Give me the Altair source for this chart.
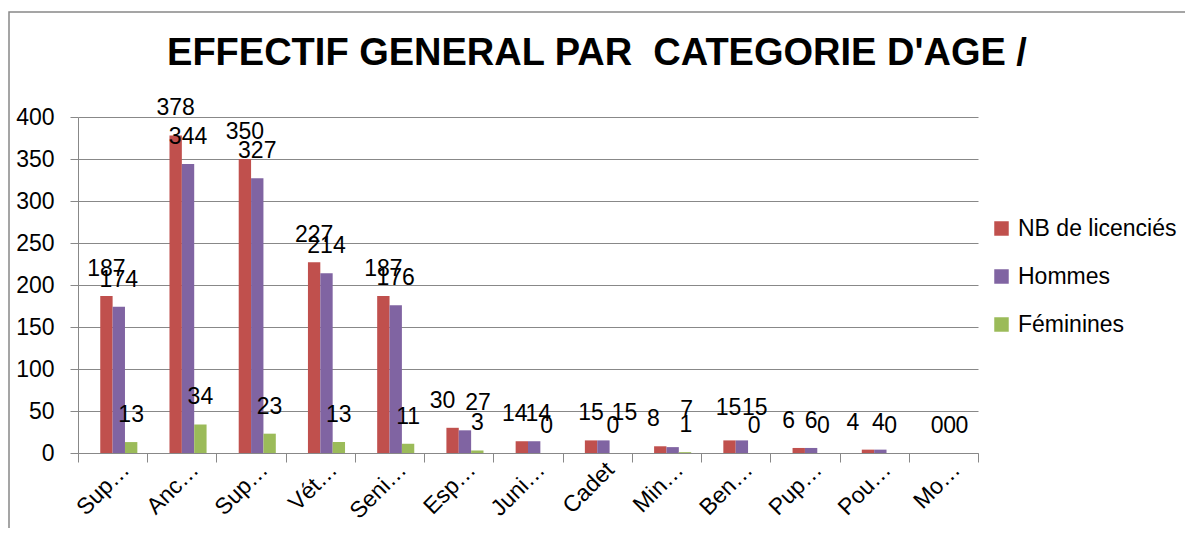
import altair as alt
import pandas as pd

categories = ["Sup…", "Anc…", "Sup…", "Vét…", "Seni…", "Esp…", "Juni…",
              "Cadet", "Min…", "Ben…", "Pup…", "Pou…", "Mo…"]
nb_licencies = [187, 378, 350, 227, 187, 30, 14, 15, 8, 15, 6, 4, 0]
hommes = [174, 344, 327, 214, 176, 27, 14, 15, 7, 15, 6, 4, 0]
feminines = [13, 34, 23, 13, 11, 3, 0, 0, 1, 0, 0, 0, 0]
series_names = ["NB de licenciés", "Hommes", "Féminines"]
series_colors = ["#C0504D", "#8064A2", "#9BBB59"]
y_ticks = [0, 50, 100, 150, 200, 250, 300, 350, 400]
title_text = "EFFECTIF GENERAL PAR  CATEGORIE D'AGE /"

# nudges of the value labels (as placed in the original chart), in pixels
nudge_x_nb = [0, 0, 0, 0, 0, -10, -7, 0, -7, -1, -10, -15, 0]
nudge_x_hommes = [0, 0, 0, 0, 0, 13, 4, 21, 14, 13, 0, -2, 0]
nudge_x_feminines = [0, 0, 0, 0, 0, 0, 0, -3, 1, 0, 0, -2, 0]
nudge_y_nb = [0, 0, 0, 0, 0, 0, 0, 0, 0, -5, 0, 0, 0]
nudge_y_hommes = [0, 0, 0, 0, 0, 0, 0, 0, -10, -5, 0, 0, 0]
nudge_y_feminines = [0] * 13

rows = []
for i, cat in enumerate(categories):
    for name, vals, nx, ny in zip(series_names, [nb_licencies, hommes, feminines],
                                  [nudge_x_nb, nudge_x_hommes, nudge_x_feminines],
                                  [nudge_y_nb, nudge_y_hommes, nudge_y_feminines]):
        rows.append({"idx": i, "cat": cat, "series": name, "value": vals[i],
                     "nx": nx[i], "ny": ny[i]})
df = pd.DataFrame(rows)

FONT = "Liberation Sans"
label_expr = "[" + ",".join("'" + c + "'" for c in categories) + "][datum.value]"

x_enc = alt.X("idx:O", scale=alt.Scale(paddingInner=0, paddingOuter=0),
              axis=alt.Axis(labelExpr=label_expr, labelAngle=-45, tickBand="extent",
                            tickSize=9, domainColor="#888888", tickColor="#888888",
                            labelFontSize=23, labelColor="black", labelFont=FONT,
                            title=None, grid=False, labelPadding=-4, labelOffset=5))
xoff = alt.XOffset("series:N",
                   scale=alt.Scale(domain=["_"] + series_names, paddingInner=0, paddingOuter=0.8))
y_enc = alt.Y("value:Q", scale=alt.Scale(domain=[0, 400]),
              axis=alt.Axis(values=y_ticks, tickSize=8, labelPadding=16,
                            gridColor="#888888", domainColor="#888888", tickColor="#888888",
                            labelFontSize=23, labelColor="black", labelFont=FONT,
                            title=None))

bars = alt.Chart(df).mark_bar().encode(
    x=x_enc, xOffset=xoff, y=y_enc,
    color=alt.Color("series:N",
                    scale=alt.Scale(domain=series_names, range=series_colors),
                    legend=alt.Legend(orient="none", legendX=912, legendY=100, title=None,
                                      symbolType="square", symbolSize=210,
                                      symbolStrokeWidth=0, labelFontSize=23,
                                      labelFont=FONT, labelColor="black",
                                      labelOffset=5, rowPadding=24)),
)

labels = alt.Chart(df).mark_text(dy=alt.expr("-27 + datum.ny"), dx=alt.expr("datum.nx"),
                                 baseline="middle", fontSize=23, font=FONT,
                                 color="black").encode(
    x=alt.X("idx:O"), xOffset=alt.XOffset("series:N"), y=alt.Y("value:Q"),
    text=alt.Text("value:Q"),
)

border = alt.Chart(pd.DataFrame({"a": [0]})).mark_rect(
    fill=None, stroke="#888888", strokeWidth=1.5).encode(
    x=alt.value(-69), x2=alt.value(1120), y=alt.value(-105), y2=alt.value(430))

title = alt.Chart(pd.DataFrame({"t": [title_text.replace("  ", " \u00a0")]})).mark_text(
    fontSize=38, font=FONT, fontWeight="bold", color="black",
    align="center", baseline="alphabetic").encode(
    x=alt.value(519), y=alt.value(-52), text="t:N")

chart = alt.layer(border, bars, labels, title).properties(
    width=900, height=336,
    autosize=alt.AutoSizeParams(type="none"),
    padding={"left": 70, "top": 109, "right": 207, "bottom": 75},
).configure_view(stroke=None)

chart.save("out.html", embed_options={"renderer": "svg", "actions": False})
